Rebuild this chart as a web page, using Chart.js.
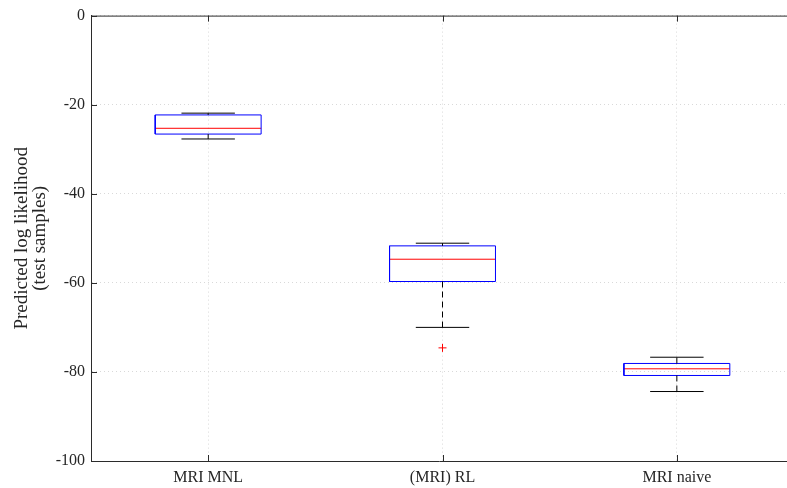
<!DOCTYPE html>
<html>
<head>
<meta charset="utf-8">
<script src="https://cdn.jsdelivr.net/npm/chart.js@4/dist/chart.umd.min.js"></script>
<style>
    html, body { margin: 0; padding: 0; background: #fff; overflow: hidden; }
    #wrap { width: 787px; height: 488px; }
    canvas { display: block; }
</style>
</head>
<body>
<div id="wrap"><canvas id="boxChart" width="787" height="488"></canvas></div>
<script>
// ─── DATA ─────────────────────────────────────────────────────────────────────
const categories  = ['MRI MNL', '(MRI) RL', 'MRI naive'];
const whiskerHigh = [-21.9, -51.1, -76.7];
const q3          = [-22.3, -51.7, -78.1];
const medians     = [-25.3, -54.7, -79.3];
const q1          = [-26.6, -59.7, -80.8];
const whiskerLow  = [-27.7, -70.0, -84.4];
const outliers    = [[], [-74.6], []];
const yTicks      = [0, -20, -40, -60, -80, -100];

// ─── STYLE ────────────────────────────────────────────────────────────────────
const BOX_HALF = 0.226;   // half box width, in x units
const CAP_HALF = 0.114;   // half whisker cap width
const AXIS_COLOR = '#2b2b2b';
const FONT = '"Liberation Serif", "Times New Roman", serif';

// ─── BUILD DATASETS ───────────────────────────────────────────────────────────
const seg = (pts, color, dash) => ({
    type: 'line',
    data: pts,
    borderColor: color,
    borderWidth: 1,
    borderDash: dash || [],
    pointRadius: 0,
    fill: false,
    tension: 0,
});

const datasets = [];
categories.forEach((_, i) => {
    const x = i + 1;
    // whiskers (dashed) + caps
    datasets.push(seg([{ x, y: q3[i] }, { x, y: whiskerHigh[i] }], '#000', [6, 4]));
    datasets.push(seg([{ x, y: q1[i] }, { x, y: whiskerLow[i] }], '#000', [6, 4]));
    datasets.push(seg([{ x: x - CAP_HALF, y: whiskerHigh[i] }, { x: x + CAP_HALF, y: whiskerHigh[i] }], '#000'));
    datasets.push(seg([{ x: x - CAP_HALF, y: whiskerLow[i] }, { x: x + CAP_HALF, y: whiskerLow[i] }], '#000'));
    // box
    datasets.push(seg([
        { x: x - BOX_HALF, y: q1[i] }, { x: x + BOX_HALF, y: q1[i] },
        { x: x + BOX_HALF, y: q3[i] }, { x: x - BOX_HALF, y: q3[i] },
        { x: x - BOX_HALF, y: q1[i] },
    ], '#0000ff'));
    // median
    datasets.push(seg([{ x: x - BOX_HALF, y: medians[i] }, { x: x + BOX_HALF, y: medians[i] }], '#ff0000'));
});

const outlierPts = [];
outliers.forEach((list, i) => list.forEach(v => outlierPts.push({ x: i + 1, y: v })));
datasets.unshift({
    type: 'scatter',
    data: outlierPts,
    pointStyle: 'cross',
    pointRadius: 4,
    borderColor: '#ff0000',
    borderWidth: 1,
});

// ─── FRAME + INWARD TICKS (matlab style) ──────────────────────────────────────
// right edge of the axes box falls just outside the picture, so only top/left/bottom
const framePlugin = {
    id: 'frame',
    afterDraw(chart) {
        const { ctx, chartArea: a, scales: { x, y } } = chart;
        ctx.save();
        ctx.strokeStyle = AXIS_COLOR;
        ctx.lineWidth = 1;
        ctx.beginPath();
        ctx.moveTo(a.left, a.top + 0.5);
        ctx.lineTo(chart.width, a.top + 0.5);
        const T = 6;
        yTicks.forEach(v => {
            const py = Math.round(y.getPixelForValue(v)) + 0.5;
            ctx.moveTo(a.left, py); ctx.lineTo(a.left + T, py);
        });
        categories.forEach((_, i) => {
            const px = Math.round(x.getPixelForValue(i + 1)) + 0.5;
            ctx.moveTo(px, a.bottom); ctx.lineTo(px, a.bottom - T);
            ctx.moveTo(px, a.top); ctx.lineTo(px, a.top + T);
        });
        ctx.stroke();
        ctx.restore();
    },
};

// ─── CHART ────────────────────────────────────────────────────────────────────
new Chart(document.getElementById('boxChart'), {
    type: 'line',
    data: { datasets },
    plugins: [framePlugin],
    options: {
        responsive: false,
        animation: false,
        devicePixelRatio: 1,
        layout: { autoPadding: false, padding: { top: 14, right: 0, left: 0, bottom: 0 } },
        plugins: { legend: { display: false }, tooltip: { enabled: false } },
        scales: {
            x: {
                type: 'linear',
                min: 0.5,
                max: 3.47,
                afterBuildTicks: (s) => { s.ticks = categories.map((_, i) => ({ value: i + 1 })); },
                afterFit: (s) => { s.height = 27; s.paddingLeft = 0; s.paddingRight = 0; },
                grid: { color: '#d9d9d9', drawTicks: false },
                border: { color: AXIS_COLOR, width: 1, dash: [1, 3] },
                ticks: {
                    color: '#262626',
                    font: { family: FONT, size: 16 },
                    padding: 7,
                    maxRotation: 0,
                    callback: (v) => categories[v - 1] ?? '',
                },
            },
            y: {
                type: 'linear',
                min: -100,
                max: 0,
                afterBuildTicks: (s) => { s.ticks = yTicks.map(v => ({ value: v })); },
                afterFit: (s) => { s.width = 91; },
                grid: { color: '#d9d9d9', drawTicks: false },
                border: { color: AXIS_COLOR, width: 1, dash: [1, 3] },
                ticks: {
                    color: '#262626',
                    font: { family: FONT, size: 16 },
                    padding: 6,
                },
                title: {
                    display: true,
                    text: ['Predicted log likelihood', '(test samples)'],
                    color: '#262626',
                    font: { family: FONT, size: 19, lineHeight: '18px' },
                    padding: { top: 13, bottom: 0 },
                },
            },
        },
    },
});
</script>
</body>
</html>
